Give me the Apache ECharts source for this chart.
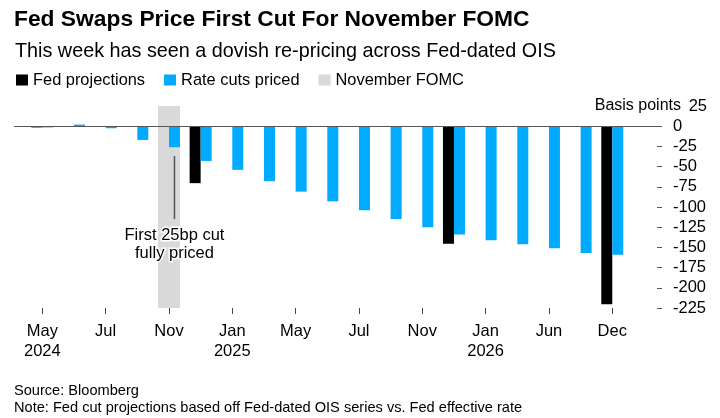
<!DOCTYPE html>
<html>
<head>
<meta charset="utf-8">
<script src="https://cdn.jsdelivr.net/npm/echarts@6/dist/echarts.min.js"></script>
<style>
html,body{margin:0;padding:0;background:#fff}
#c{width:720px;height:418px}
</style>
</head>
<body>
<div id="c"></div>
<script>
// ---- data ----
const meetings = ['May 2024','Jun 2024','Jul 2024','Sep 2024','Nov 2024','Dec 2024',
  'Jan 2025','Mar 2025','May 2025','Jun 2025','Jul 2025','Sep 2025','Nov 2025','Dec 2025',
  'Jan 2026','Mar 2026','Jun 2026','Sep 2026','Dec 2026'];
const ratesPriced = [-1.5, 2, -2.5, -17, -26, -43, -54, -68, -81, -93, -104, -115, -125, -134, -141, -146, -151, -157, -159];
const fedProjections = [-1.5, null, null, null, null, -70.5, null, null, null, null, null, null, null, -145.5, null, null, null, null, -220.5];
const novemberFomcIndex = 4;
const tickIndices = [0, 2, 4, 6, 8, 10, 12, 14, 16, 18];
const tickLabels = ['May\n2024', 'Jul', 'Nov', 'Jan\n2025', 'May', 'Jul', 'Nov', 'Jan\n2026', 'Jun', 'Dec'];
const yTickValues = [0, -25, -50, -75, -100, -125, -150, -175, -200, -225];
const yMin = -225, yMax = 25;
const annotationText = 'First 25bp cut\nfully priced';

// ---- style ----
const FONT = "'Liberation Sans', Arial, Helvetica, sans-serif";
const BLUE = '#00abff';
const BLACK = '#000000';
const GREY = '#d9d9d9';
const BAR_W = 11;

const toPairs = arr => arr.map((v, i) => v === null ? null : [i, v]).filter(d => d !== null);

const chart = echarts.init(document.getElementById('c'), null, {renderer: 'canvas'});

const option = {
  animation: false,
  backgroundColor: '#fff',
  textStyle: {fontFamily: FONT},
  title: [
    {text: 'Fed Swaps Price First Cut For November FOMC', left: 14, top: 7, padding: 0,
     textStyle: {fontFamily: FONT, fontWeight: 'bold', fontSize: 22.8, lineHeight: 26, color: '#000'}},
    {text: 'This week has seen a dovish re-pricing across Fed-dated OIS', left: 15, top: 40, padding: 0,
     textStyle: {fontFamily: FONT, fontWeight: 'normal', fontSize: 19.8, lineHeight: 24, color: '#000'}},
    {text: 'Source: Bloomberg', left: 14, top: 383, padding: 0,
     textStyle: {fontFamily: FONT, fontWeight: 'normal', fontSize: 14.6, lineHeight: 16, color: '#000'}},
    {text: 'Note: Fed cut projections based off Fed-dated OIS series vs. Fed effective rate', left: 14, top: 400, padding: 0,
     textStyle: {fontFamily: FONT, fontWeight: 'normal', fontSize: 14.6, lineHeight: 16, color: '#000'}}
  ],
  legend: {
    left: 16, top: 71, padding: 0,
    itemWidth: 12, itemHeight: 11, itemGap: 19,
    icon: 'rect',
    selectedMode: false,
    textStyle: {fontFamily: FONT, fontSize: 16.4, lineHeight: 18, color: '#000', padding: [0, 0, 0, 0]},
    data: [
      {name: 'Fed projections', itemStyle: {color: BLACK}},
      {name: 'Rate cuts priced', itemStyle: {color: BLUE}},
      {name: 'November FOMC', itemStyle: {color: GREY}}
    ]
  },
  grid: {left: 14, right: 58, top: 106, bottom: 110, containLabel: false},
  xAxis: [
    {
      type: 'value', min: -0.894, max: 19.57, position: 'bottom',
      axisLine: {show: false, onZero: false},
      splitLine: {show: false},
      axisTick: {show: true, length: 6, customValues: tickIndices, lineStyle: {color: '#444', width: 1}},
      axisLabel: {
        customValues: tickIndices,
        formatter: v => tickLabels[tickIndices.indexOf(Math.round(v))] || '',
        margin: 14, fontFamily: FONT, fontSize: 16.5, lineHeight: 19.5, color: '#000'
      }
    },
    {
      type: 'value', min: -0.894, max: 19.57, show: false,
      axisLine: {onZero: false}, splitLine: {show: false}
    }
  ],
  yAxis: {
    type: 'value', position: 'right', min: yMin, max: yMax, interval: 25,
    axisLine: {show: false, onZero: false},
    splitLine: {show: false},
    axisTick: {show: true, inside: true, length: 5, customValues: yTickValues, lineStyle: {color: '#555', width: 1}},
    axisLabel: {
      margin: 11, fontFamily: FONT, fontSize: 16.5, color: '#000', align: 'left',
      formatter: v => v === yMax ? '{r|' + v + '}' : String(v),
      rich: {r: {width: 34, align: 'right', fontFamily: FONT, fontSize: 16.5, color: '#000'}}
    }
  },
  series: [
    {
      name: 'November FOMC', type: 'bar', xAxisIndex: 1, yAxisIndex: 0, stack: 'band',
      barWidth: 22, z: 1, silent: true,
      itemStyle: {color: GREY},
      data: [[novemberFomcIndex, yMax]]
    },
    {
      name: 'November FOMC', type: 'bar', xAxisIndex: 1, yAxisIndex: 0, stack: 'band',
      barWidth: 22, z: 1, silent: true,
      itemStyle: {color: GREY},
      data: [[novemberFomcIndex, yMin]]
    },
    {
      name: 'Fed projections', type: 'bar', xAxisIndex: 0, yAxisIndex: 0,
      barWidth: BAR_W, barGap: '0%', z: 3,
      itemStyle: {color: BLACK},
      data: toPairs(fedProjections)
    },
    {
      name: 'Rate cuts priced', type: 'bar', xAxisIndex: 0, yAxisIndex: 0,
      barWidth: BAR_W, barGap: '0%', z: 3,
      itemStyle: {color: BLUE},
      data: toPairs(ratesPriced),
      markLine: {
        silent: true, symbol: 'none', animation: false,
        label: {show: false},
        lineStyle: {color: '#555', width: 1.2, type: 'solid'},
        data: [{yAxis: 0}]
      }
    }
  ]
};

chart.setOption(option);

// annotation placed through the chart's own scales
const annTop = chart.convertToPixel({gridIndex: 0}, [novemberFomcIndex, -37]);
const annBot = chart.convertToPixel({gridIndex: 0}, [novemberFomcIndex, -115]);
const annTxt = chart.convertToPixel({gridIndex: 0}, [novemberFomcIndex, -146]);
const yTopPx = chart.convertToPixel({yAxisIndex: 0}, yMax);
const gridRightPx = chart.convertToPixel({gridIndex: 0}, [19.57, 0])[0];
const xOff = BAR_W / 2;

chart.setOption({
  graphic: [
    {
      type: 'line', z: 10, silent: true,
      shape: {x1: annTop[0] + xOff, y1: annTop[1], x2: annBot[0] + xOff, y2: annBot[1]},
      style: {stroke: '#555', lineWidth: 1.5}
    },
    {
      type: 'text', z: 10, silent: true,
      x: annTxt[0] + xOff, y: annTxt[1],
      style: {
        text: annotationText, fill: '#000', stroke: '#fff', lineWidth: 3,
        font: '16.5px ' + FONT, lineHeight: 18,
        align: 'center', verticalAlign: 'middle'
      }
    },
    {
      type: 'text', z: 10, silent: true,
      x: gridRightPx + 19, y: yTopPx,
      style: {
        text: 'Basis points', fill: '#000',
        font: '16px ' + FONT,
        align: 'right', verticalAlign: 'middle'
      }
    }
  ]
});
</script>
</body>
</html>
